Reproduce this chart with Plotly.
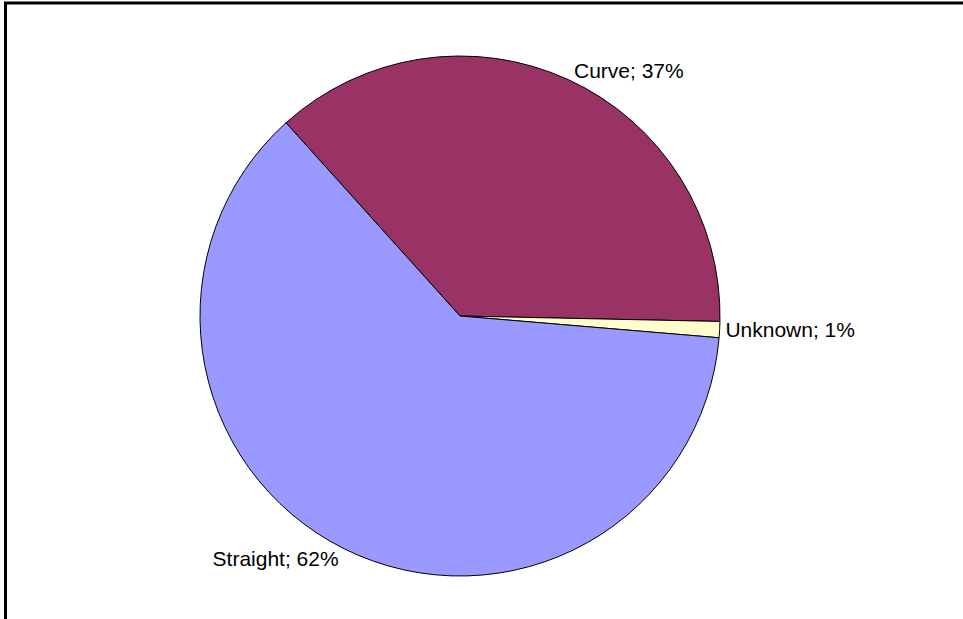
import plotly.graph_objects as go

labels = ["Curve", "Unknown", "Straight"]
values = [37, 1, 62]
colors = ["#993366", "#FFFFCC", "#9999FF"]

W, H = 963, 619
cx, cy, r = 460, 316, 260

fig = go.Figure(go.Pie(
    labels=labels,
    values=values,
    sort=False,
    direction="clockwise",
    rotation=318,
    marker=dict(colors=colors, line=dict(color="black", width=1)),
    textposition="outside",
    texttemplate="%{label}; %{percent:.0%}",
    textfont=dict(family="Liberation Sans, Arial, sans-serif", size=21, color="black"),
    showlegend=False,
    hoverinfo="label+percent",
    domain=dict(x=[(cx - r) / W, (cx + r) / W], y=[1 - (cy + r) / H, 1 - (cy - r) / H]),
))

fig.update_layout(
    width=W, height=H,
    margin=dict(l=0, r=0, t=0, b=0),
    paper_bgcolor="white",
    plot_bgcolor="white",
    shapes=[
        dict(type="line", xref="paper", yref="paper", x0=5.5 / W, x1=5.5 / W, y0=0, y1=1 - 2 / H,
             line=dict(color="black", width=3)),
        dict(type="line", xref="paper", yref="paper", x0=4 / W, x1=1, y0=1 - 3 / H, y1=1 - 3 / H,
             line=dict(color="black", width=3)),
    ],
)

fig.write_html("out.html")
